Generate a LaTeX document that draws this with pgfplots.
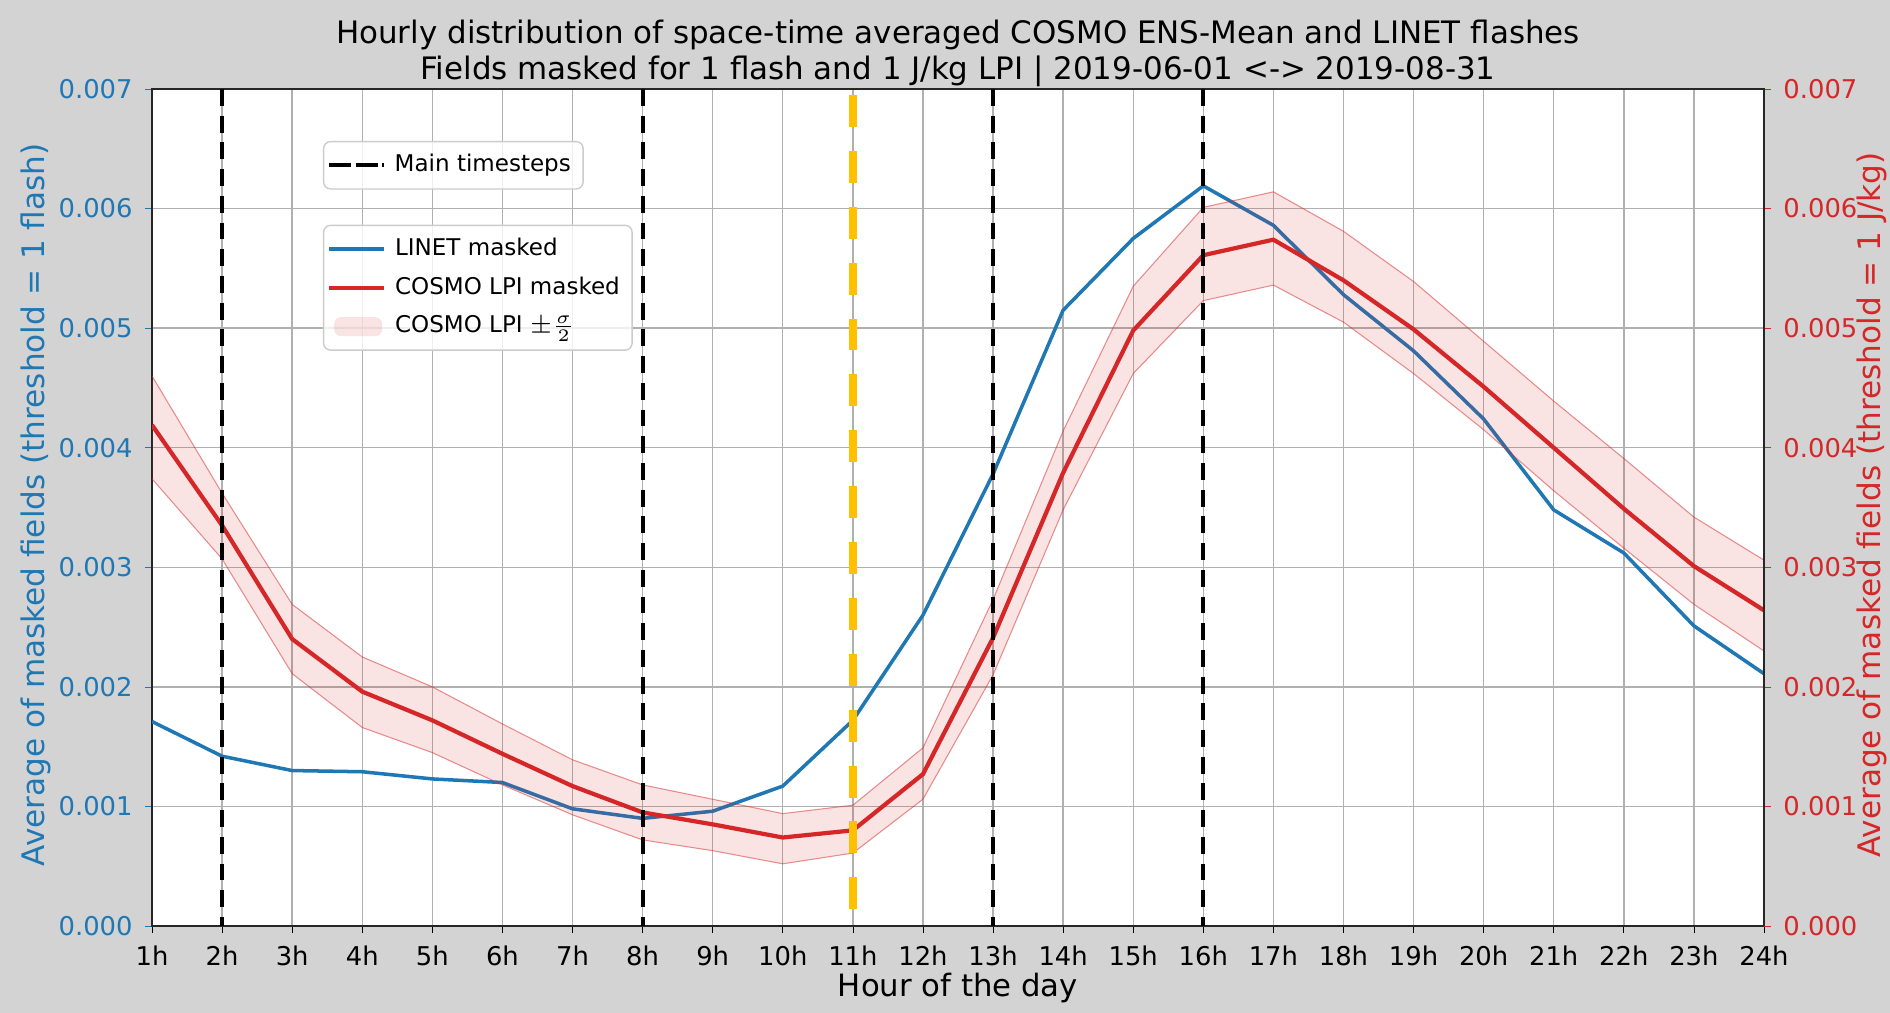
\documentclass[border=0pt]{standalone}
\usepackage{fontspec}
\setmainfont{DejaVu Sans}
\usepackage{pgfplots}
\pgfplotsset{compat=1.18}
\usepackage{pgfplotstable}
\definecolor{mblue}{HTML}{1F77B4}
\definecolor{mred}{HTML}{D62728}
\definecolor{bg}{RGB}{211,211,211}
\definecolor{gridc}{HTML}{B0B0B0}
\definecolor{legc}{HTML}{CCCCCC}
\definecolor{orangeline}{RGB}{255,192,0}

\pgfplotstableread{
h linet cosmo up lo
1 0.00171 0.00419 0.00460 0.00374
2 0.00142 0.00335 0.00362 0.00307
3 0.00130 0.00240 0.00269 0.00211
4 0.00129 0.00196 0.00225 0.00166
5 0.00123 0.00172 0.00200 0.00145
6 0.00120 0.00144 0.00169 0.00118
7 0.00098 0.00117 0.00139 0.00093
8 0.00090 0.00095 0.00118 0.00072
9 0.00096 0.00085 0.00106 0.00063
10 0.00117 0.00074 0.00094 0.00052
11 0.00172 0.00080 0.00101 0.00061
12 0.00260 0.00127 0.00149 0.00106
13 0.00378 0.00241 0.00273 0.00210
14 0.00515 0.00379 0.00414 0.00348
15 0.00575 0.00498 0.00535 0.00462
16 0.00619 0.00561 0.00601 0.00523
17 0.00586 0.00574 0.00614 0.00536
18 0.00528 0.00540 0.00581 0.00505
19 0.00481 0.00499 0.00539 0.00462
20 0.00424 0.00451 0.00489 0.00415
21 0.00348 0.00400 0.00439 0.00364
22 0.00312 0.00349 0.00391 0.00316
23 0.00251 0.00301 0.00342 0.00269
24 0.00211 0.00264 0.00306 0.00230
}\data

% band outline: upper bound forward, lower bound backward
\pgfplotstableread{
h v
1 0.00460
2 0.00362
3 0.00269
4 0.00225
5 0.00200
6 0.00169
7 0.00139
8 0.00118
9 0.00106
10 0.00094
11 0.00101
12 0.00149
13 0.00273
14 0.00414
15 0.00535
16 0.00601
17 0.00614
18 0.00581
19 0.00539
20 0.00489
21 0.00439
22 0.00391
23 0.00342
24 0.00306
24 0.00230
23 0.00269
22 0.00316
21 0.00364
20 0.00415
19 0.00462
18 0.00505
17 0.00536
16 0.00523
15 0.00462
14 0.00348
13 0.00210
12 0.00106
11 0.00061
10 0.00052
9 0.00063
8 0.00072
7 0.00093
6 0.00118
5 0.00145
4 0.00166
3 0.00211
2 0.00307
1 0.00374
}\band

\pgfplotsset{
  legstyle/.style={
    legend cell align=left,
    legend style={draw=legc, rounded corners=2pt, fill=white, fill opacity=0.8, text opacity=1,
      font=\fontsize{6.55}{8}\selectfont, inner xsep=1pt, inner ysep=1.5pt,
      row sep=0.6pt, nodes={inner xsep=2.5pt}},
    legend image code/.code={\path (-0.05cm,0cm) -- (0.5cm,0cm);\draw[##1] (0cm,0cm) -- (0.46cm,0cm);},
  },
  bandlegend/.style={
    legend image code/.code={\path (-0.05cm,0cm) -- (0.5cm,0cm);\fill[##1] (0cm,-0.095cm) rectangle (0.48cm,0.095cm);},
  },
  numfmt/.style={
    /pgf/number format/fixed,
    /pgf/number format/fixed zerofill,
    /pgf/number format/precision=3,
    /pgf/number format/assume math mode=true,
  },
}

\begin{document}
\begin{tikzpicture}
\path[use as bounding box, fill=bg] (0,0) rectangle (18.9cm,10.13cm);
\begin{axis}[
  at={(1.52cm,0.87cm)}, anchor=south west,
  scale only axis, width=16.12cm, height=8.37cm,
  xmin=1, xmax=24, ymin=0, ymax=0.007,
  axis background/.style={fill=white},
  axis line style={black!85, line width=0.5pt},
  xtick={1,2,3,4,5,6,7,8,9,10,11,12,13,14,15,16,17,18,19,20,21,22,23,24},
  xticklabels={1h,2h,3h,4h,5h,6h,7h,8h,9h,10h,11h,12h,13h,14h,15h,16h,17h,18h,19h,20h,21h,22h,23h,24h},
  ytick={0,0.001,0.002,0.003,0.004,0.005,0.006,0.007},
  scaled y ticks=false,
  numfmt,
  yticklabel style={text=mblue},
  ytick style={draw=mblue},
  xtick style={draw=black},
  tick align=outside, xtick pos=bottom, ytick pos=left,
  major tick length=0.07cm,
  tick label style={font=\fontsize{7.35}{8}\selectfont},
  grid=major, grid style={gridc, line width=0.4pt},
  legstyle,
  legend style={at={(0.106,0.838)}, anchor=north west},
]
\addplot[mblue, line width=1.0pt, forget plot] table[x=h, y=linet] {\data};
\addplot[fill=mred, fill opacity=0.13, draw=none, forget plot] table[x=h, y=v] {\band};
\addplot[mred, opacity=0.5, line width=0.3pt, forget plot] table[x=h, y=up] {\data};
\addplot[mred, opacity=0.5, line width=0.3pt, forget plot] table[x=h, y=lo] {\data};
\addplot[mred, line width=1.2pt, forget plot] table[x=h, y=cosmo] {\data};
\addlegendimage{mblue, line width=1.0pt}
\addlegendentry{LINET masked}
\addlegendimage{mred, line width=1.2pt}
\addlegendentry{COSMO LPI masked}
\addlegendimage{bandlegend, fill=mred, fill opacity=0.13, draw=none}
\addlegendentry{COSMO LPI $\pm\frac{\sigma}{2}$}
\end{axis}
\begin{axis}[
  at={(1.52cm,0.87cm)}, anchor=south west,
  scale only axis, width=16.12cm, height=8.37cm,
  xmin=1, xmax=24, ymin=0, ymax=0.007,
  axis x line=none, axis y line*=right,
  axis line style={black!85, line width=0.5pt, -},
  ytick={0,0.001,0.002,0.003,0.004,0.005,0.006,0.007},
  scaled y ticks=false,
  numfmt,
  yticklabel style={text=mred},
  ytick style={draw=mred},
  tick align=outside,
  major tick length=0.07cm,
  tick label style={font=\fontsize{7.35}{8}\selectfont},
  legstyle,
  legend style={at={(0.106,0.938)}, anchor=north west},
]
\addplot[black, line width=1.1pt, dash pattern=on 4.8pt off 2.8pt] coordinates {(2,0.007) (2,0)};
\addlegendentry{Main timesteps}
\addplot[black, line width=1.1pt, dash pattern=on 4.8pt off 2.8pt, forget plot] coordinates {(8,0.007) (8,0)};
\addplot[black, line width=1.1pt, dash pattern=on 4.8pt off 2.8pt, forget plot] coordinates {(13,0.007) (13,0)};
\addplot[black, line width=1.1pt, dash pattern=on 4.8pt off 2.8pt, forget plot] coordinates {(16,0.007) (16,0)};
\addplot[orangeline, line width=2.3pt, dash pattern=on 9.1pt off 6.8pt, forget plot] coordinates {(11,0.00695) (11,0.000125)};
\end{axis}
\node[anchor=base, font=\fontsize{8.8}{10}\selectfont] at (9.58cm,9.69cm) {Hourly distribution of space-time averaged COSMO ENS-Mean and LINET flashes};
\node[anchor=base, font=\fontsize{8.8}{10}\selectfont] at (9.58cm,9.33cm) {Fields masked for 1 flash and 1 J/kg LPI | 2019-06-01 <-> 2019-08-31};
\node[anchor=base, font=\fontsize{8.75}{10}\selectfont] at (9.58cm,0.16cm) {Hour of the day};
\node[rotate=90, font=\fontsize{8.85}{10}\selectfont, text=mblue] at (0.36cm,5.08cm) {Average of masked fields (threshold = 1 flash)};
\node[rotate=90, font=\fontsize{8.85}{10}\selectfont, text=mred] at (18.72cm,5.08cm) {Average of masked fields (threshold = 1 J/kg)};
\end{tikzpicture}
\end{document}
